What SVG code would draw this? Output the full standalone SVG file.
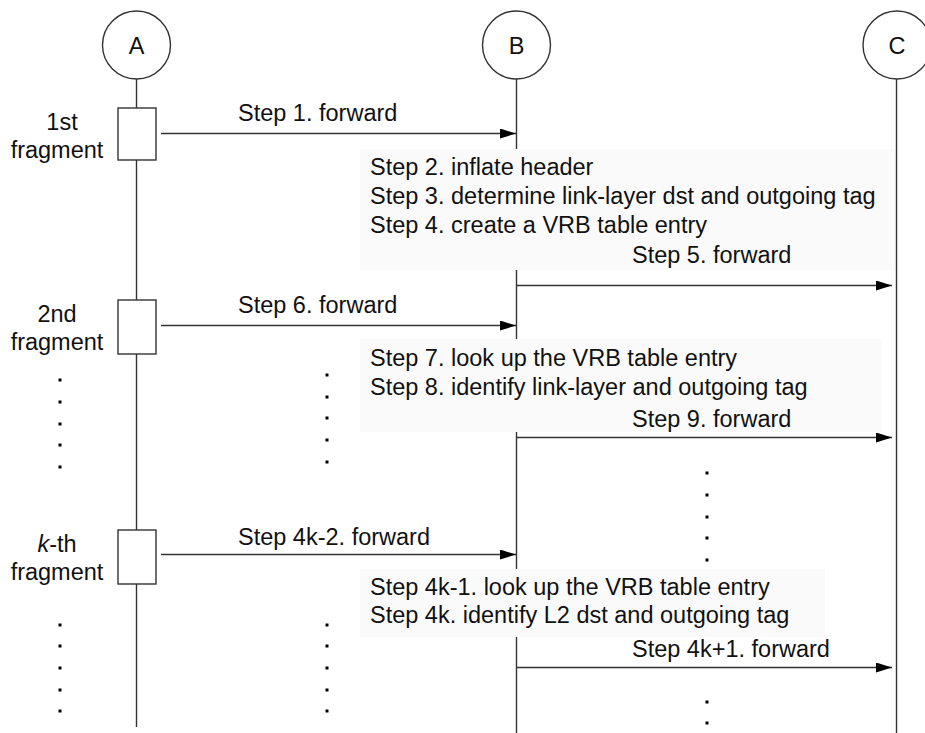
<svg xmlns="http://www.w3.org/2000/svg" width="925" height="733" viewBox="0 0 925 733">
  <defs>
    <marker id="arrow" viewBox="0 0 16 10" refX="16" refY="5" markerWidth="16" markerHeight="10" markerUnits="userSpaceOnUse" orient="auto">
      <path d="M0,0 L16,5 L0,10 Z" fill="#000"/>
    </marker>
    <style>
      text { font-family: "Liberation Sans", Arial, sans-serif; font-size: 23.5px; fill: #111; }
      .mid { text-anchor: middle; }
      .life { stroke: #333; stroke-width: 1.4; fill: none; }
      .actor circle { fill: #fff; stroke: #333; stroke-width: 1.4; }
      .frag { fill: #fff; stroke: #333; stroke-width: 1.4; }
      .msg { stroke: #333; stroke-width: 1.4; fill: none; marker-end: url(#arrow); }
      .note { fill: #fafafa; stroke: none; }
      .dot { fill: #000; }
    </style>
  </defs>

  <rect width="925" height="733" fill="#fff"/>

  <!-- lifelines -->
  <g id="lifelines">
    <line class="life" x1="136.5" y1="79" x2="136.5" y2="727"/>
    <line class="life" x1="516.5" y1="79" x2="516.5" y2="733"/>
    <line class="life" x1="896.5" y1="79" x2="896.5" y2="733"/>
  </g>

  <!-- participants -->
  <g id="node-A" class="actor">
    <circle cx="136.5" cy="45" r="34"/>
    <text class="mid" x="136.5" y="53.5">A</text>
  </g>
  <g id="node-B" class="actor">
    <circle cx="516.5" cy="45" r="34"/>
    <text class="mid" x="516.5" y="53.5">B</text>
  </g>
  <g id="node-C" class="actor">
    <circle cx="897" cy="45" r="34"/>
    <text class="mid" x="897" y="53.5">C</text>
  </g>

  <!-- fragments sent by A -->
  <g id="frag-1">
    <rect class="frag" x="118" y="108" width="38" height="52"/>
    <text class="mid" x="62" y="130">1st</text>
    <text class="mid" x="57" y="158">fragment</text>
  </g>
  <g id="frag-2">
    <rect class="frag" x="118" y="300" width="38" height="54"/>
    <text class="mid" x="57" y="322">2nd</text>
    <text class="mid" x="57" y="350">fragment</text>
  </g>
  <g id="frag-k">
    <rect class="frag" x="118" y="530" width="38" height="54"/>
    <text class="mid" x="57" y="552"><tspan font-style="italic">k</tspan>-th</text>
    <text class="mid" x="57" y="580">fragment</text>
  </g>

  <!-- processing notes at B -->
  <g id="note-1">
    <rect class="note" x="360" y="149" width="535" height="121"/>
    <text x="370" y="175">Step 2. inflate header</text>
    <text x="370" y="204">Step 3. determine link-layer dst and outgoing tag</text>
    <text x="370" y="233">Step 4. create a VRB table entry</text>
  </g>
  <g id="note-2">
    <rect class="note" x="360" y="339" width="522" height="93"/>
    <text x="370" y="366">Step 7. look up the VRB table entry</text>
    <text x="370" y="395">Step 8. identify link-layer and outgoing tag</text>
  </g>
  <g id="note-k">
    <rect class="note" x="360" y="569" width="465" height="68"/>
    <text x="370" y="595">Step 4k-1. look up the VRB table entry</text>
    <text x="370" y="623">Step 4k. identify L2 dst and outgoing tag</text>
  </g>

  <!-- messages -->
  <g id="connectors">
    <line class="msg" x1="161" y1="133.5" x2="516" y2="133.5"/>
    <line class="msg" x1="517" y1="285.5" x2="892" y2="285.5"/>
    <line class="msg" x1="161" y1="325.5" x2="516" y2="325.5"/>
    <line class="msg" x1="517" y1="437.5" x2="892" y2="437.5"/>
    <line class="msg" x1="161" y1="554.5" x2="516" y2="554.5"/>
    <line class="msg" x1="517" y1="667.5" x2="892" y2="667.5"/>
  </g>

  <g id="message-labels">
    <text x="238" y="121">Step 1. forward</text>
    <text x="632" y="263">Step 5. forward</text>
    <text x="238" y="313">Step 6. forward</text>
    <text x="632" y="427">Step 9. forward</text>
    <text x="238" y="545">Step 4k-2. forward</text>
    <text x="632" y="657">Step 4k+1. forward</text>
  </g>

  <!-- ellipsis dots -->
  <g id="ellipses" class="dot">
    <rect x="58.5" y="378.5" width="3" height="3"/>
    <rect x="58.5" y="400.5" width="3" height="3"/>
    <rect x="58.5" y="422.5" width="3" height="3"/>
    <rect x="58.5" y="443.5" width="3" height="3"/>
    <rect x="58.5" y="465.5" width="3" height="3"/>

    <rect x="325.5" y="373.5" width="3" height="3"/>
    <rect x="325.5" y="395.5" width="3" height="3"/>
    <rect x="325.5" y="416.5" width="3" height="3"/>
    <rect x="325.5" y="438.5" width="3" height="3"/>
    <rect x="325.5" y="460.5" width="3" height="3"/>

    <rect x="705.5" y="471.5" width="3" height="3"/>
    <rect x="705.5" y="493.5" width="3" height="3"/>
    <rect x="705.5" y="515.5" width="3" height="3"/>
    <rect x="705.5" y="536.5" width="3" height="3"/>
    <rect x="705.5" y="558.5" width="3" height="3"/>

    <rect x="58.5" y="623.5" width="3" height="3"/>
    <rect x="58.5" y="644.5" width="3" height="3"/>
    <rect x="58.5" y="666.5" width="3" height="3"/>
    <rect x="58.5" y="688.5" width="3" height="3"/>
    <rect x="58.5" y="709.5" width="3" height="3"/>

    <rect x="325.5" y="623.5" width="3" height="3"/>
    <rect x="325.5" y="644.5" width="3" height="3"/>
    <rect x="325.5" y="666.5" width="3" height="3"/>
    <rect x="325.5" y="688.5" width="3" height="3"/>
    <rect x="325.5" y="709.5" width="3" height="3"/>

    <rect x="705.5" y="700.5" width="3" height="3"/>
    <rect x="705.5" y="721.5" width="3" height="3"/>
  </g>
</svg>
